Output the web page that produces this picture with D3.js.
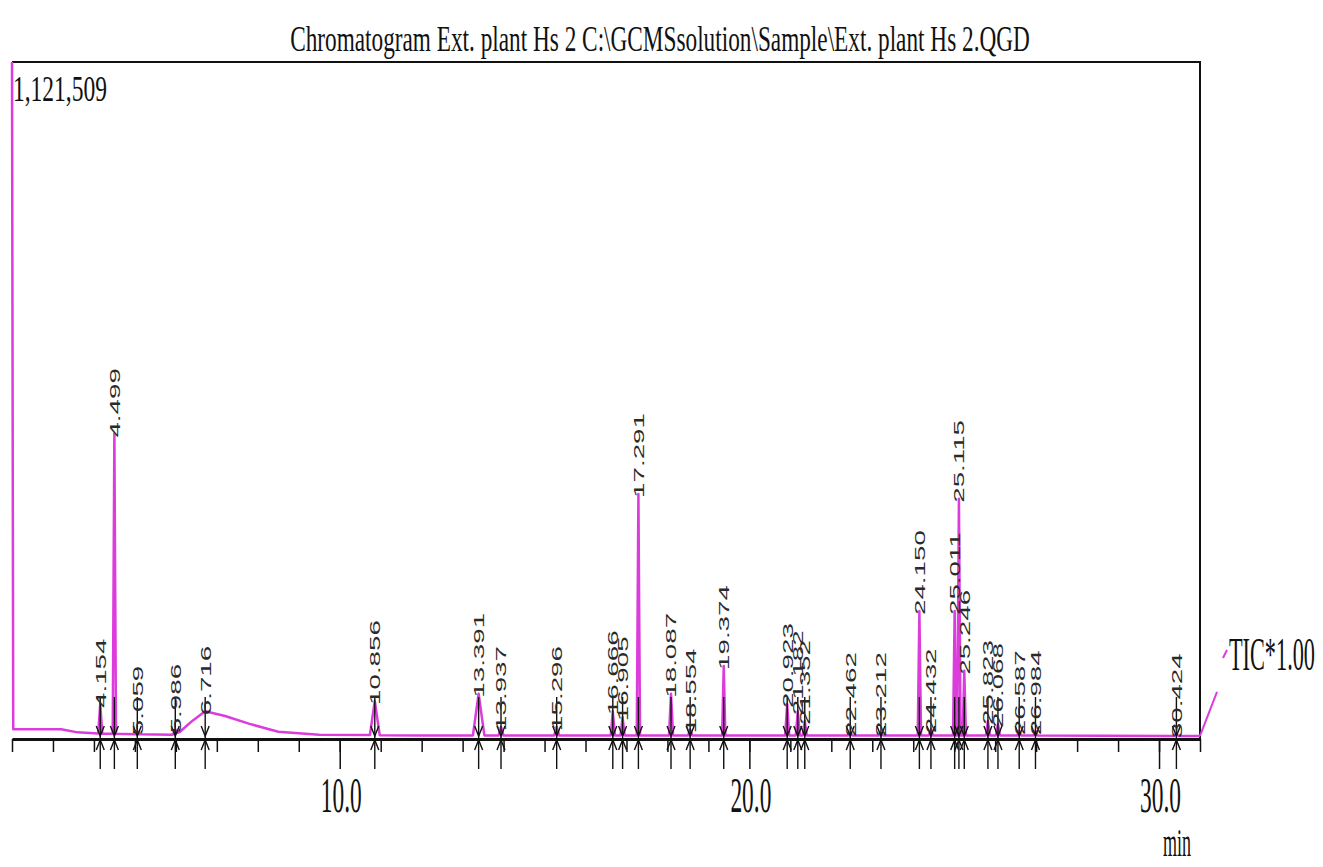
<!DOCTYPE html>
<html>
<head>
<meta charset="utf-8">
<script src="https://cdn.jsdelivr.net/npm/d3@7"></script>
<style>
  body { margin: 0; background: #fff; }
  svg { display: block; }
</style>
</head>
<body>
<svg id="chart"></svg>
<script>
// peaks (retention time in min, apex intensity, half width in min)
const retentionTimes = [4.154, 4.499, 5.059, 5.986, 6.716, 10.856, 13.391, 13.937, 15.296,
  16.666, 16.905, 17.291, 18.087, 18.554, 19.374, 20.923, 21.182, 21.352, 22.462, 23.212,
  24.150, 24.432, 25.011, 25.115, 25.246, 25.823, 26.068, 26.587, 26.984, 30.424];
const peakHeights = [58000, 506000, 13000, 16000, 46000, 63000, 75000, 20000, 20000,
  46000, 36000, 406000, 75000, 16000, 121000, 58000, 46000, 30000, 10000, 10000,
  212000, 16000, 212000, 398000, 113000, 30000, 25000, 13000, 13000, 8000];
const peakHalfWidths = [0.05, 0.04, 0.05, 0.05, 0.05, 0.12, 0.14, 0.06, 0.06,
  0.05, 0.05, 0.04, 0.05, 0.05, 0.04, 0.05, 0.05, 0.05, 0.05, 0.05,
  0.04, 0.05, 0.04, 0.04, 0.04, 0.05, 0.05, 0.05, 0.05, 0.05];

// baseline (drift + broad hump around 6.7 min)
const baselineTimes = [2.0, 2.03, 3.2, 3.6, 4.1, 5.0, 5.9, 6.1, 6.4, 6.72, 7.2, 7.8, 8.5, 9.5, 12.0, 20.0, 26.0, 31.0];
const baselineValues = [1121509, 16000, 16000, 11000, 9000, 8000, 7000, 12000, 30000, 46000, 38000, 25000, 12000, 7000, 6000, 6000, 6000, 5000];

const timeRange = [2.0, 31.0];
const maxIntensity = 1121509;
const majorTicks = [10, 20, 30];
const majorTickLabels = ["10.0", "20.0", "30.0"];

const titleText = "Chromatogram Ext. plant Hs 2 C:\\GCMSsolution\\Sample\\Ext. plant Hs 2.QGD";
const scaleText = "1,121,509";
const channelText = "TIC*1.00";
const unitText = "min";

const W = 1323, H = 867;
const plot = {left: 12, right: 1200, top: 62, bottom: 739};
const PINK = "#dc3cdc";
const SERIF = "'Liberation Serif', 'Times New Roman', serif";

const svg = d3.select("#chart").attr("width", W).attr("height", H);

const x = d3.scaleLinear().domain(timeRange).range([plot.left, plot.right]);
const y = d3.scaleLinear().domain([0, maxIntensity]).range([plot.bottom, plot.top]).clamp(true);
const base = d3.scaleLinear().domain(baselineTimes).range(baselineValues);

// tall, narrow serif text like the instrument printout: squeeze to a given width
const narrowText = (parent, str, px, py, size, width, anchor = "start") => {
  const g = parent.append("g").attr("transform", `translate(${px},${py})`);
  const t = g.append("text")
    .attr("text-anchor", anchor)
    .attr("font-family", SERIF)
    .attr("font-size", size)
    .attr("fill", "#111")
    .text(str);
  const natural = t.node().getComputedTextLength();
  t.attr("transform", `scale(${width / natural},1)`);
  return g;
};

// title
narrowText(svg, titleText, 660, 51, 36, 740, "middle");

// frame (top + right)
svg.append("path")
  .attr("d", `M${plot.left},${plot.top}H${plot.right}V${plot.bottom}`)
  .attr("fill", "none").attr("stroke", "#111").attr("stroke-width", 2);

narrowText(svg, scaleText, 13, 101, 36, 94);

// minor axis (every minute)
const minorAxis = d3.axisBottom(x)
  .ticks(29)
  .tickSize(13)
  .tickSizeOuter(0)
  .tickFormat("");

svg.append("g")
  .attr("class", "x-minor")
  .attr("transform", `translate(0,${plot.bottom})`)
  .call(minorAxis);

svg.select(".x-minor .domain").attr("stroke", "#111").attr("stroke-width", 3);
svg.selectAll(".x-minor .tick line").attr("stroke", "#111").attr("stroke-width", 1.5);

// major ticks, labels added as squeezed text
const majorAxis = d3.axisBottom(x)
  .tickValues(majorTicks)
  .tickSize(30)
  .tickSizeOuter(0)
  .tickFormat("");

const gMajor = svg.append("g")
  .attr("class", "x-major")
  .attr("transform", `translate(0,${plot.bottom})`)
  .call(majorAxis);

gMajor.select(".domain").remove();
gMajor.selectAll(".tick line").attr("stroke", "#111").attr("stroke-width", 1.5);
gMajor.selectAll(".tick").each(function(d, i) {
  narrowText(d3.select(this), majorTickLabels[i], 1, 73, 50, 41, "middle");
});

narrowText(svg, unitText, 1163, 856, 40, 28);

// trace: baseline points + a narrow spike at every peak
const pts = baselineTimes.map((t, i) => [t, baselineValues[i]]);
retentionTimes.forEach((rt, i) => {
  const hw = peakHalfWidths[i];
  pts.push([rt - hw, base(rt - hw)]);
  pts.push([rt, Math.max(peakHeights[i], base(rt))]);
  pts.push([rt + hw, base(rt + hw)]);
});
pts.sort((a, b) => a[0] - b[0]);

const line = d3.line().x(d => x(d[0])).y(d => y(d[1]));

svg.append("path")
  .datum(pts)
  .attr("d", line)
  .attr("fill", "none")
  .attr("stroke", PINK)
  .attr("stroke-width", 2.5)
  .attr("stroke-linejoin", "round");

// channel label leader
const endY = y(base(timeRange[1]));
svg.append("path")
  .attr("d", `M${plot.right},${endY}L${plot.right + 17},${endY - 44}M${plot.right + 23},${endY - 78}L${plot.right + 27},${endY - 86}`)
  .attr("fill", "none").attr("stroke", PINK).attr("stroke-width", 2);

narrowText(svg, channelText, 1229, 670, 46, 86);

// peak markers
const markers = svg.append("g").attr("class", "markers")
  .attr("stroke", "#111").attr("fill", "none").attr("stroke-width", 1.4);

retentionTimes.forEach(rt => {
  const px = x(rt), b = plot.bottom;
  markers.append("line")
    .attr("x1", px).attr("x2", px)
    .attr("y1", b - 42).attr("y2", b + 30);
  markers.append("path")
    .attr("d", `M${px - 4},${b - 13}L${px},${b - 3}L${px + 4},${b - 13}M${px - 4},${b + 11}L${px},${b + 1}L${px + 4},${b + 11}`);
});

// rotated retention time labels
svg.append("g")
  .selectAll("text")
  .data(retentionTimes)
  .join("text")
  .attr("transform", (d, i) => `translate(${x(d)},${y(Math.max(peakHeights[i], base(d))) + 4}) rotate(-90) scale(1.85,1)`)
  .attr("dy", "0.36em")
  .attr("font-family", "'Liberation Sans', Arial, sans-serif")
  .attr("font-size", 15)
  .attr("fill", "#2a2a2a")
  .text(d => d.toFixed(3));
</script>
</body>
</html>
